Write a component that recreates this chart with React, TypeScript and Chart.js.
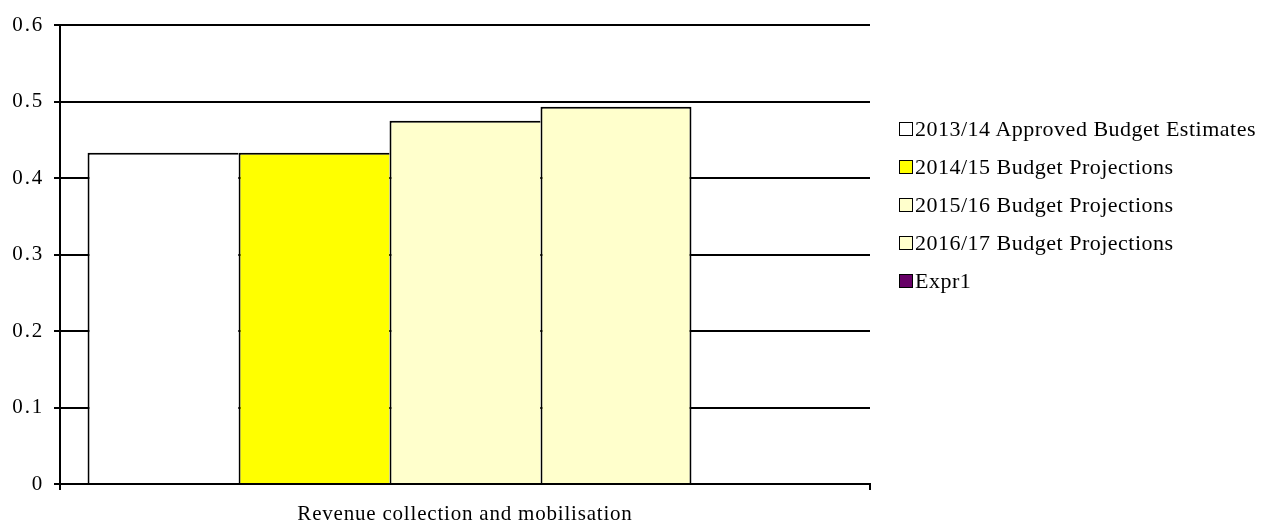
import React, { useEffect, useRef } from "react";
import { Chart, registerables } from "chart.js";

Chart.register(...registerables);

const categories = ["Revenue collection and mobilisation"];
const seriesNames = [
  "2013/14 Approved Budget Estimates",
  "2014/15 Budget Projections",
  "2015/16 Budget Projections",
  "2016/17 Budget Projections",
  "Expr1",
];
const seriesValues = [0.433, 0.433, 0.475, 0.493, 0];
const seriesColors = ["#FFFFFF", "#FFFF00", "#FFFFCC", "#FFFFCC", "#660066"];
const yTickLabels = ["0", "0.1", "0.2", "0.3", "0.4", "0.5", "0.6"];

const FONT = "'Liberation Serif', 'Times New Roman', serif";

const spacingPlugin = {
  id: "spacing",
  afterLayout(chart: any) {
    const spacing: Record<string, string> = { x: "0.8px", y: "1.8px" };
    Object.keys(spacing).forEach((id) => {
      const scale = chart.scales[id];
      if (!scale || scale.__wrapped) return;
      const orig = scale.drawLabels.bind(scale);
      scale.drawLabels = (area: any) => {
        const ctx = chart.ctx;
        const prev = ctx.letterSpacing;
        ctx.letterSpacing = spacing[id];
        orig(area);
        ctx.letterSpacing = prev || "0px";
      };
      scale.__wrapped = true;
    });
  },
};

export default function App() {
  const ref = useRef<HTMLCanvasElement | null>(null);

  useEffect(() => {
    if (!ref.current) return;
    const chart = new Chart(ref.current, {
      type: "bar",
      data: {
        labels: categories,
        datasets: seriesNames.map((name, i) => ({
          label: name,
          data: [seriesValues[i]],
          backgroundColor: seriesColors[i],
          borderColor: "#000000",
          borderWidth:
            i === 3 ? 2 : { top: 2, left: 2, right: 0, bottom: 2 },
          categoryPercentage: 0.932,
          barPercentage: 1,
        })),
      },
      options: {
        responsive: false,
        animation: false,
        events: [],
        layout: { padding: { left: 0, right: 392, top: 25, bottom: 0 } },
        plugins: {
          legend: { display: false },
          tooltip: { enabled: false },
        },
        scales: {
          x: {
            grid: {
              offset: true,
              drawOnChartArea: false,
              drawTicks: true,
              tickLength: 6,
              color: "#000000",
              lineWidth: 2,
            },
            border: { display: true, color: "#000000", width: 2 },
            ticks: {
              color: "#000000",
              font: { family: FONT, size: 21 },
              padding: 12,
            },
            afterFit(scale: any) {
              scale.height = 41;
            },
          },
          y: {
            min: 0,
            max: 0.6,
            ticks: {
              stepSize: 0.1,
              color: "#000000",
              font: { family: FONT, size: 21 },
              padding: 10,
              callback: (_v: any, idx: number) => yTickLabels[idx],
            },
            grid: {
              color: "#000000",
              lineWidth: 2,
              tickLength: 6,
            },
            border: { display: true, color: "#000000", width: 2 },
            afterFit(scale: any) {
              scale.width = 60;
            },
          },
        },
      },
      plugins: [spacingPlugin],
    });
    return () => chart.destroy();
  }, []);

  return (
    <div
      style={{
        position: "fixed",
        left: 0,
        top: 0,
        width: 1262,
        height: 525,
        background: "#ffffff",
      }}
    >
      <canvas ref={ref} width={1262} height={525} />
      <div
        style={{
          position: "absolute",
          left: 899,
          top: 110,
          fontFamily: FONT,
          fontSize: 22,
          letterSpacing: "0.5px",
          color: "#000",
        }}
      >
        {seriesNames.map((name, i) => (
          <div
            key={name}
            style={{
              display: "flex",
              alignItems: "center",
              height: 38,
              lineHeight: "38px",
              whiteSpace: "nowrap",
            }}
          >
            <span
              style={{
                display: "inline-block",
                width: 12,
                height: 12,
                border: "1.5px solid #000",
                background: seriesColors[i],
                marginRight: 2,
              }}
            />
            <span>{name}</span>
          </div>
        ))}
      </div>
    </div>
  );
}
